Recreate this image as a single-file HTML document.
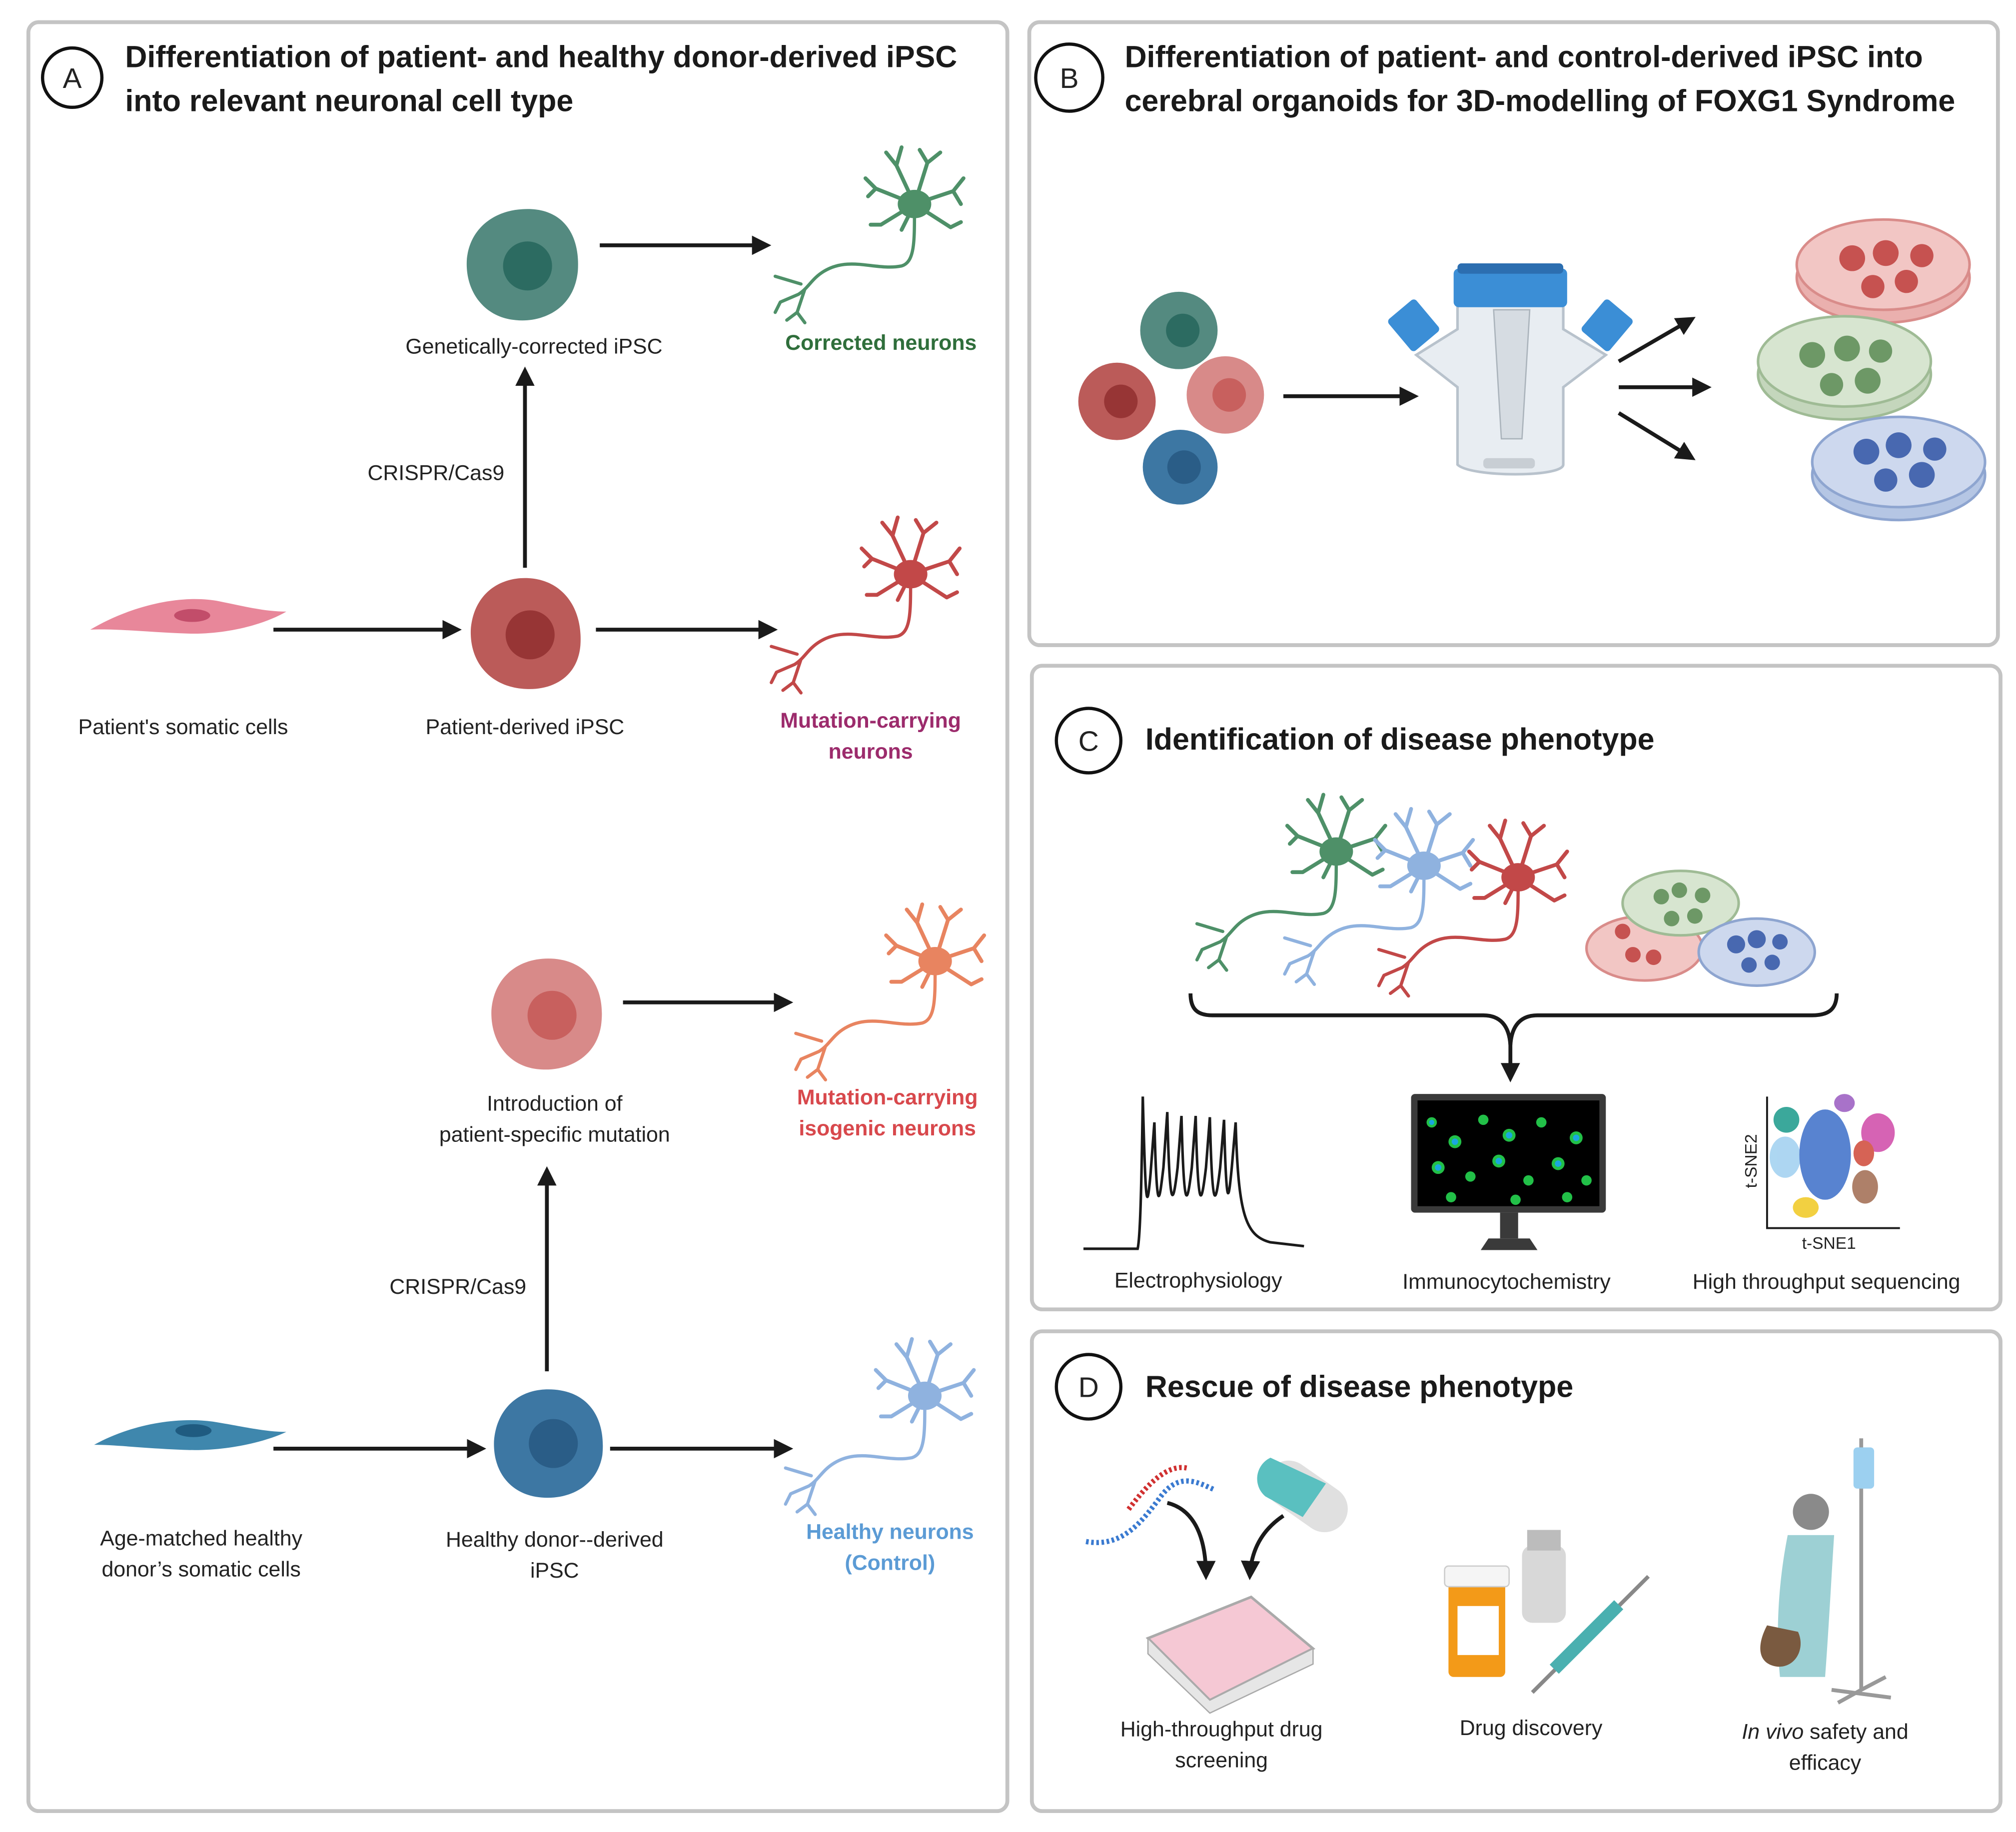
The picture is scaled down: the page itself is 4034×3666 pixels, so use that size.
<!DOCTYPE html>
<html><head><meta charset="utf-8"><style>
html,body{margin:0;padding:0;background:#fff}
svg{display:block}
text{font-family:"Liberation Sans",sans-serif;fill:#222}
.t{font-weight:bold;font-size:23.6px;fill:#1a1a1a}
.l{font-size:16.6px}
.b{font-weight:bold;font-size:16.6px}
</style></head><body>
<svg xmlns="http://www.w3.org/2000/svg" xmlns:xlink="http://www.w3.org/1999/xlink" width="4034" height="3666" viewBox="0 0 1563 1420">
<defs>
<marker id="ah" viewBox="0 0 10 10" refX="8" refY="5" markerWidth="5" markerHeight="5" orient="auto"><path d="M0,0L10,5L0,10z" fill="#1a1a1a"/></marker>
<g id="neuron" fill="none" stroke="currentColor" stroke-width="3" stroke-linecap="round">
<path d="M0,0 L-14,-30 M-14,-30 l-8,-10 M-14,-30 l4,-14 M0,0 L10,-32 M10,-32 l-6,-10 M10,-32 l10,-8 M0,0 L30,-10 M30,-10 l8,-10 M30,-10 l6,10 M0,0 L28,18 M28,18 l8,-4 M0,0 L-30,-12 M-30,-12 l-8,-8 M-30,-12 l-6,6 M0,0 L-26,16 M-26,16 l-8,0 M0,0 L-10,20"/>
<path d="M0,5 C0,30 0,45 -10,48 C-30,52 -50,40 -70,52 C-80,58 -82,65 -90,70 M-88,62 l-20,-6 M-85,66 l-6,18 M-91,84 l-8,6 M-91,84 l6,8 M-90,70 l-14,6 M-104,76 l-4,8" stroke-width="2.5"/>
<ellipse cx="0" cy="0" rx="13" ry="11" fill="currentColor" stroke="none"/>
</g>
</defs>
<rect width="1563" height="1420" fill="#fff"/>
<g fill="#fff" stroke="#c4c4c4" stroke-width="3">
<rect x="22" y="17" width="759" height="1387" rx="8"/>
<rect x="798" y="17" width="751" height="483" rx="8"/>
<rect x="800" y="516" width="751" height="499" rx="8"/>
<rect x="800" y="1032" width="751" height="372" rx="8"/>
</g>
<!-- Panel A -->
<circle cx="56" cy="60" r="23" fill="none" stroke="#111" stroke-width="2.5"/>
<text x="56" y="68" text-anchor="middle" font-size="22">A</text>
<text class="t" x="97" y="52">Differentiation of patient- and healthy donor-derived iPSC</text>
<text class="t" x="97" y="86">into relevant neuronal cell type</text>

<g stroke="#1a1a1a" stroke-width="3" marker-end="url(#ah)">
<line x1="465" y1="190" x2="595" y2="190"/>
<line x1="407" y1="440" x2="407" y2="287"/>
<line x1="212" y1="488" x2="355" y2="488"/>
<line x1="462" y1="488" x2="600" y2="488"/>
<line x1="483" y1="777" x2="612" y2="777"/>
<line x1="424" y1="1063" x2="424" y2="907"/>
<line x1="212" y1="1123" x2="374" y2="1123"/>
<line x1="473" y1="1123" x2="612" y2="1123"/>
</g>
<!-- cells -->
<path d="M405,162 C435,160 450,180 448,210 C445,240 420,250 400,248 C375,246 360,225 362,200 C365,175 385,163 405,162z" fill="#548a80"/>
<circle cx="409" cy="206" r="19" fill="#2c6b61"/>
<path d="M407,448 C435,448 452,470 450,500 C448,525 428,535 408,534 C382,533 364,515 365,488 C367,462 385,448 407,448z" fill="#bb5b59"/>
<circle cx="411" cy="492" r="19" fill="#973535"/>
<path d="M425,743 C455,743 470,765 466,795 C462,820 440,830 420,829 C395,828 380,808 381,783 C383,757 402,743 425,743z" fill="#d88a89"/>
<circle cx="428" cy="787" r="19" fill="#c8605e"/>
<path d="M425,1077 C455,1077 470,1098 467,1128 C463,1152 442,1162 422,1161 C397,1160 382,1142 383,1117 C385,1092 402,1077 425,1077z" fill="#3d77a3"/>
<circle cx="429" cy="1119" r="19" fill="#2a5d87"/>
<path d="M70,488 C100,470 140,460 170,466 C190,470 205,474 222,474 C205,484 175,492 145,491 C115,490 90,487 70,488z" fill="#e8879a"/>
<ellipse cx="149" cy="477" rx="14" ry="5" fill="#c24d6a"/>
<path d="M73,1120 C100,1105 135,1098 165,1102 C190,1106 205,1110 222,1110 C205,1118 175,1125 145,1124 C115,1123 90,1120 73,1120z" fill="#3f87ad"/>
<ellipse cx="150" cy="1109" rx="14" ry="5" fill="#1f5b80"/>
<!-- neurons -->
<use xlink:href="#neuron" x="709" y="158" color="#4e9068"/>
<use xlink:href="#neuron" x="706" y="445" color="#c24848"/>
<use xlink:href="#neuron" x="725" y="745" color="#e88460"/>
<use xlink:href="#neuron" x="717" y="1082" color="#8fb2df"/>
<text class="l" x="414" y="274" text-anchor="middle">Genetically-corrected iPSC</text>
<text class="b" x="683" y="271" text-anchor="middle" style="fill:#2f6e3b">Corrected neurons</text>
<text class="l" x="338" y="372" text-anchor="middle">CRISPR/Cas9</text>
<text class="l" x="142" y="569" text-anchor="middle">Patient's somatic cells</text>
<text class="l" x="407" y="569" text-anchor="middle">Patient-derived iPSC</text>
<text class="b" x="675" y="564" text-anchor="middle" style="fill:#9c2b6c">Mutation-carrying</text>
<text class="b" x="675" y="588" text-anchor="middle" style="fill:#9c2b6c">neurons</text>
<text class="l" x="430" y="861" text-anchor="middle">Introduction of</text>
<text class="l" x="430" y="885" text-anchor="middle">patient-specific mutation</text>
<text class="b" x="688" y="856" text-anchor="middle" style="fill:#d8484c">Mutation-carrying</text>
<text class="b" x="688" y="880" text-anchor="middle" style="fill:#d8484c">isogenic neurons</text>
<text class="l" x="355" y="1003" text-anchor="middle">CRISPR/Cas9</text>
<text class="l" x="156" y="1198" text-anchor="middle">Age-matched healthy</text>
<text class="l" x="156" y="1222" text-anchor="middle">donor’s somatic cells</text>
<text class="l" x="430" y="1199" text-anchor="middle">Healthy donor--derived</text>
<text class="l" x="430" y="1223" text-anchor="middle">iPSC</text>
<text class="b" x="690" y="1193" text-anchor="middle" style="fill:#5b9bd5">Healthy neurons</text>
<text class="b" x="690" y="1217" text-anchor="middle" style="fill:#5b9bd5">(Control)</text>

<!-- Panel B -->
<circle cx="829" cy="60" r="26" fill="none" stroke="#111" stroke-width="2.5"/>
<text x="829" y="68" text-anchor="middle" font-size="22">B</text>
<text class="t" x="872" y="52">Differentiation of patient- and control-derived iPSC into</text>
<text class="t" x="872" y="86">cerebral organoids for 3D-modelling of FOXG1 Syndrome</text>
<circle cx="914" cy="256" r="30" fill="#548a80"/><circle cx="917" cy="256" r="13" fill="#2c6b61"/>
<circle cx="866" cy="311" r="30" fill="#bb5b59"/><circle cx="869" cy="311" r="13" fill="#973535"/>
<circle cx="950" cy="306" r="30" fill="#d88a89"/><circle cx="953" cy="306" r="13" fill="#c8605e"/>
<circle cx="915" cy="362" r="29" fill="#3d77a3"/><circle cx="918" cy="362" r="13" fill="#2a5d87"/>
<g stroke="#1a1a1a" stroke-width="3" marker-end="url(#ah)">
<line x1="995" y1="307" x2="1097" y2="307"/>
<line x1="1255" y1="280" x2="1312" y2="247"/>
<line x1="1255" y1="300" x2="1324" y2="300"/>
<line x1="1255" y1="320" x2="1312" y2="355"/>
</g>
<!-- spinner flask -->
<path d="M1130,235 L1212,235 L1212,255 L1245,275 L1212,300 L1212,360 C1212,370 1140,370 1130,360 L1130,300 L1098,275 L1130,255z" fill="#e8edf2" stroke="#b8c2cc" stroke-width="2"/>
<rect x="1127" y="208" width="88" height="30" rx="4" fill="#3b8ed6"/>
<rect x="1130" y="204" width="82" height="8" rx="3" fill="#2c6eb0"/>
<rect x="1082" y="236" width="28" height="32" rx="3" fill="#3b8ed6" transform="rotate(-40 1096 252)"/>
<rect x="1232" y="236" width="28" height="32" rx="3" fill="#3b8ed6" transform="rotate(40 1246 252)"/>
<path d="M1158,240 L1186,240 L1180,340 L1164,340z" fill="#d6dce2" stroke="#aab3bb"/>
<rect x="1150" y="355" width="40" height="8" rx="3" fill="#c8ced4"/>
<!-- dishes -->
<g stroke-width="2">
<ellipse cx="1460" cy="215" rx="67" ry="35" fill="#eab0ae" stroke="#d98c8a"/>
<ellipse cx="1460" cy="205" rx="67" ry="35" fill="#f2c6c4" stroke="#d98c8a"/>
<ellipse cx="1430" cy="290" rx="67" ry="35" fill="#c4d6bc" stroke="#9fbb95"/>
<ellipse cx="1430" cy="280" rx="67" ry="35" fill="#d7e5d0" stroke="#9fbb95"/>
<ellipse cx="1472" cy="368" rx="67" ry="35" fill="#b5c6e4" stroke="#8ea5d0"/>
<ellipse cx="1472" cy="358" rx="67" ry="35" fill="#cdd8ee" stroke="#8ea5d0"/>
</g>
<g fill="#c65250"><circle cx="1436" cy="200" r="10"/><circle cx="1462" cy="196" r="10"/><circle cx="1490" cy="198" r="9"/><circle cx="1452" cy="222" r="9"/><circle cx="1478" cy="218" r="9"/></g>
<g fill="#6d9866"><circle cx="1405" cy="275" r="10"/><circle cx="1432" cy="270" r="10"/><circle cx="1458" cy="272" r="9"/><circle cx="1420" cy="298" r="9"/><circle cx="1448" cy="295" r="10"/></g>
<g fill="#4868b0"><circle cx="1447" cy="350" r="10"/><circle cx="1472" cy="345" r="10"/><circle cx="1500" cy="348" r="9"/><circle cx="1462" cy="372" r="9"/><circle cx="1490" cy="368" r="10"/></g>

<!-- Panel C -->
<circle cx="844" cy="574" r="25" fill="none" stroke="#111" stroke-width="2.5"/>
<text x="844" y="582" text-anchor="middle" font-size="22">C</text>
<text class="t" x="888" y="581">Identification of disease phenotype</text>
<use xlink:href="#neuron" x="1036" y="660" color="#4e9068"/>
<use xlink:href="#neuron" x="1104" y="671" color="#8fb2df"/>
<use xlink:href="#neuron" x="1177" y="680" color="#c24848"/>
<g stroke-width="2">
<ellipse cx="1275" cy="735" rx="45" ry="25" fill="#f2c6c4" stroke="#d98c8a"/>
<ellipse cx="1303" cy="700" rx="45" ry="25" fill="#d7e5d0" stroke="#9fbb95"/>
<ellipse cx="1362" cy="738" rx="45" ry="26" fill="#cdd8ee" stroke="#8ea5d0"/>
</g>
<g fill="#c65250"><circle cx="1258" cy="722" r="6"/><circle cx="1266" cy="740" r="6"/><circle cx="1282" cy="742" r="6"/></g>
<g fill="#6d9866"><circle cx="1288" cy="695" r="6"/><circle cx="1302" cy="690" r="6"/><circle cx="1320" cy="694" r="6"/><circle cx="1296" cy="712" r="6"/><circle cx="1314" cy="710" r="6"/></g>
<g fill="#4868b0"><circle cx="1346" cy="732" r="7"/><circle cx="1362" cy="728" r="7"/><circle cx="1380" cy="730" r="6"/><circle cx="1356" cy="748" r="6"/><circle cx="1374" cy="746" r="6"/></g>
<path d="M923,770 C923,782 928,787 940,787 L1150,787 C1163,787 1170,795 1171,810 C1172,795 1179,787 1192,787 L1405,787 C1418,787 1424,782 1424,770" fill="none" stroke="#1a1a1a" stroke-width="3"/>
<line x1="1171" y1="805" x2="1171" y2="836" stroke="#1a1a1a" stroke-width="3" marker-end="url(#ah)"/>
<path d="M840,968 L882,968 C884,960 885,920 886,850 C888,930 889,945 892,910 L895,870 C897,950 899,930 902,905 L905,862 C907,950 910,930 913,905 L916,865 C918,950 921,930 924,905 L927,865 C929,950 932,930 935,905 L938,866 C940,950 943,930 946,905 L949,868 C951,950 953,925 955,905 L958,870 C960,940 965,958 985,963 L1011,966" fill="none" stroke="#1a1a1a" stroke-width="2"/>
<rect x="1094" y="848" width="151" height="92" rx="3" fill="#3a3a3a"/>
<rect x="1099" y="853" width="141" height="82" fill="#000"/>
<g fill="#22c048"><circle cx="1110" cy="870" r="4"/><circle cx="1128" cy="885" r="5"/><circle cx="1150" cy="868" r="4"/><circle cx="1170" cy="880" r="5"/><circle cx="1195" cy="870" r="4"/><circle cx="1222" cy="882" r="5"/><circle cx="1115" cy="905" r="5"/><circle cx="1140" cy="912" r="4"/><circle cx="1162" cy="900" r="5"/><circle cx="1185" cy="915" r="4"/><circle cx="1208" cy="902" r="5"/><circle cx="1230" cy="915" r="4"/><circle cx="1125" cy="928" r="4"/><circle cx="1175" cy="930" r="4"/><circle cx="1215" cy="928" r="4"/></g>
<g fill="#1aa6e0"><circle cx="1110" cy="870" r="2"/><circle cx="1128" cy="885" r="2.5"/><circle cx="1170" cy="880" r="2.5"/><circle cx="1222" cy="882" r="2.5"/><circle cx="1115" cy="905" r="2.5"/><circle cx="1162" cy="900" r="2.5"/><circle cx="1208" cy="902" r="2.5"/></g>
<rect x="1163" y="940" width="14" height="20" fill="#3a3a3a"/>
<path d="M1148,969 L1154,960 L1186,960 L1192,969z" fill="#3a3a3a"/>
<path d="M1370,850 L1370,952 L1473,952" fill="none" stroke="#1a1a1a" stroke-width="1.5"/>
<g opacity="0.85">
<ellipse cx="1385" cy="868" rx="10" ry="10" fill="#1a9a8a"/>
<ellipse cx="1384" cy="897" rx="12" ry="16" fill="#9fd0f0"/>
<ellipse cx="1415" cy="895" rx="20" ry="35" fill="#3b6ec8"/>
<ellipse cx="1430" cy="855" rx="8" ry="7" fill="#9a5ac0"/>
<ellipse cx="1456" cy="878" rx="13" ry="15" fill="#d048a8"/>
<ellipse cx="1445" cy="894" rx="8" ry="10" fill="#d04838"/>
<ellipse cx="1446" cy="920" rx="10" ry="13" fill="#a06a50"/>
<ellipse cx="1400" cy="936" rx="10" ry="8" fill="#f0c820"/>
</g>
<text x="1362" y="900" font-size="13" text-anchor="middle" transform="rotate(-90 1362 900)">t-SNE2</text>
<text x="1418" y="968" font-size="13" text-anchor="middle">t-SNE1</text>
<text class="l" x="929" y="998" text-anchor="middle">Electrophysiology</text>
<text class="l" x="1168" y="999" text-anchor="middle">Immunocytochemistry</text>
<text class="l" x="1416" y="999" text-anchor="middle">High throughput sequencing</text>

<!-- Panel D -->
<circle cx="844" cy="1075" r="25" fill="none" stroke="#111" stroke-width="2.5"/>
<text x="844" y="1083" text-anchor="middle" font-size="22">D</text>
<text class="t" x="888" y="1083">Rescue of disease phenotype</text>
<path d="M842,1195 C870,1200 885,1180 900,1160 C915,1140 930,1150 942,1155" fill="none" stroke="#3a7ad0" stroke-width="4" stroke-dasharray="2 2"/>
<path d="M875,1170 C890,1150 905,1135 920,1138" fill="none" stroke="#d03030" stroke-width="4" stroke-dasharray="2 2"/>
<rect x="978" y="1142" width="70" height="36" rx="18" fill="#e0e0e0" transform="rotate(35 1013 1160)"/>
<path d="M985,1130 a18,18 0 0 0 -4,30 L1010,1176 L1028,1150z" fill="#5ac0c0"/>
<path d="M905,1165 C925,1170 935,1190 935,1222" fill="none" stroke="#1a1a1a" stroke-width="3" marker-end="url(#ah)"/>
<path d="M995,1175 C980,1185 970,1200 969,1222" fill="none" stroke="#1a1a1a" stroke-width="3" marker-end="url(#ah)"/>
<path d="M890,1270 L970,1238 L1018,1278 L938,1318z" fill="#f5c8d4" stroke="#aaa" stroke-width="2"/>
<path d="M890,1270 L890,1282 L938,1328 L1018,1290 L1018,1278 L938,1318z" fill="#e6e6e6" stroke="#aaa"/>
<rect x="1123" y="1218" width="44" height="82" rx="4" fill="#f39a18"/>
<rect x="1120" y="1214" width="50" height="16" rx="3" fill="#f5f5f5" stroke="#ccc"/>
<rect x="1130" y="1245" width="32" height="38" fill="#fff"/>
<rect x="1180" y="1198" width="34" height="60" rx="8" fill="#d8d8d8"/>
<rect x="1184" y="1186" width="26" height="16" fill="#bcbcbc"/>
<line x1="1188" y1="1312" x2="1278" y2="1222" stroke="#888" stroke-width="3"/>
<line x1="1205" y1="1294" x2="1255" y2="1244" stroke="#4ab0b0" stroke-width="10"/>
<line x1="1443" y1="1115" x2="1443" y2="1310" stroke="#999" stroke-width="3"/>
<rect x="1437" y="1122" width="16" height="32" rx="3" fill="#9cd0f0"/>
<path d="M1420,1310 L1466,1316 M1443,1310 L1425,1320 M1443,1310 L1462,1300" stroke="#999" stroke-width="3"/>
<circle cx="1404" cy="1172" r="14" fill="#8a8a8a"/>
<path d="M1386,1190 C1380,1220 1376,1260 1380,1300 L1415,1300 C1418,1260 1420,1220 1422,1190 z" fill="#9dd0d4"/>
<path d="M1370,1260 C1362,1275 1362,1290 1378,1292 C1392,1293 1400,1278 1394,1265z" fill="#7a5a40"/>
<text class="l" x="947" y="1346" text-anchor="middle">High-throughput drug</text>
<text class="l" x="947" y="1370" text-anchor="middle">screening</text>
<text class="l" x="1187" y="1345" text-anchor="middle">Drug discovery</text>
<text class="l" x="1415" y="1348" text-anchor="middle"><tspan font-style="italic">In vivo</tspan> safety and</text>
<text class="l" x="1415" y="1372" text-anchor="middle">efficacy</text>
</svg>
</body></html>
